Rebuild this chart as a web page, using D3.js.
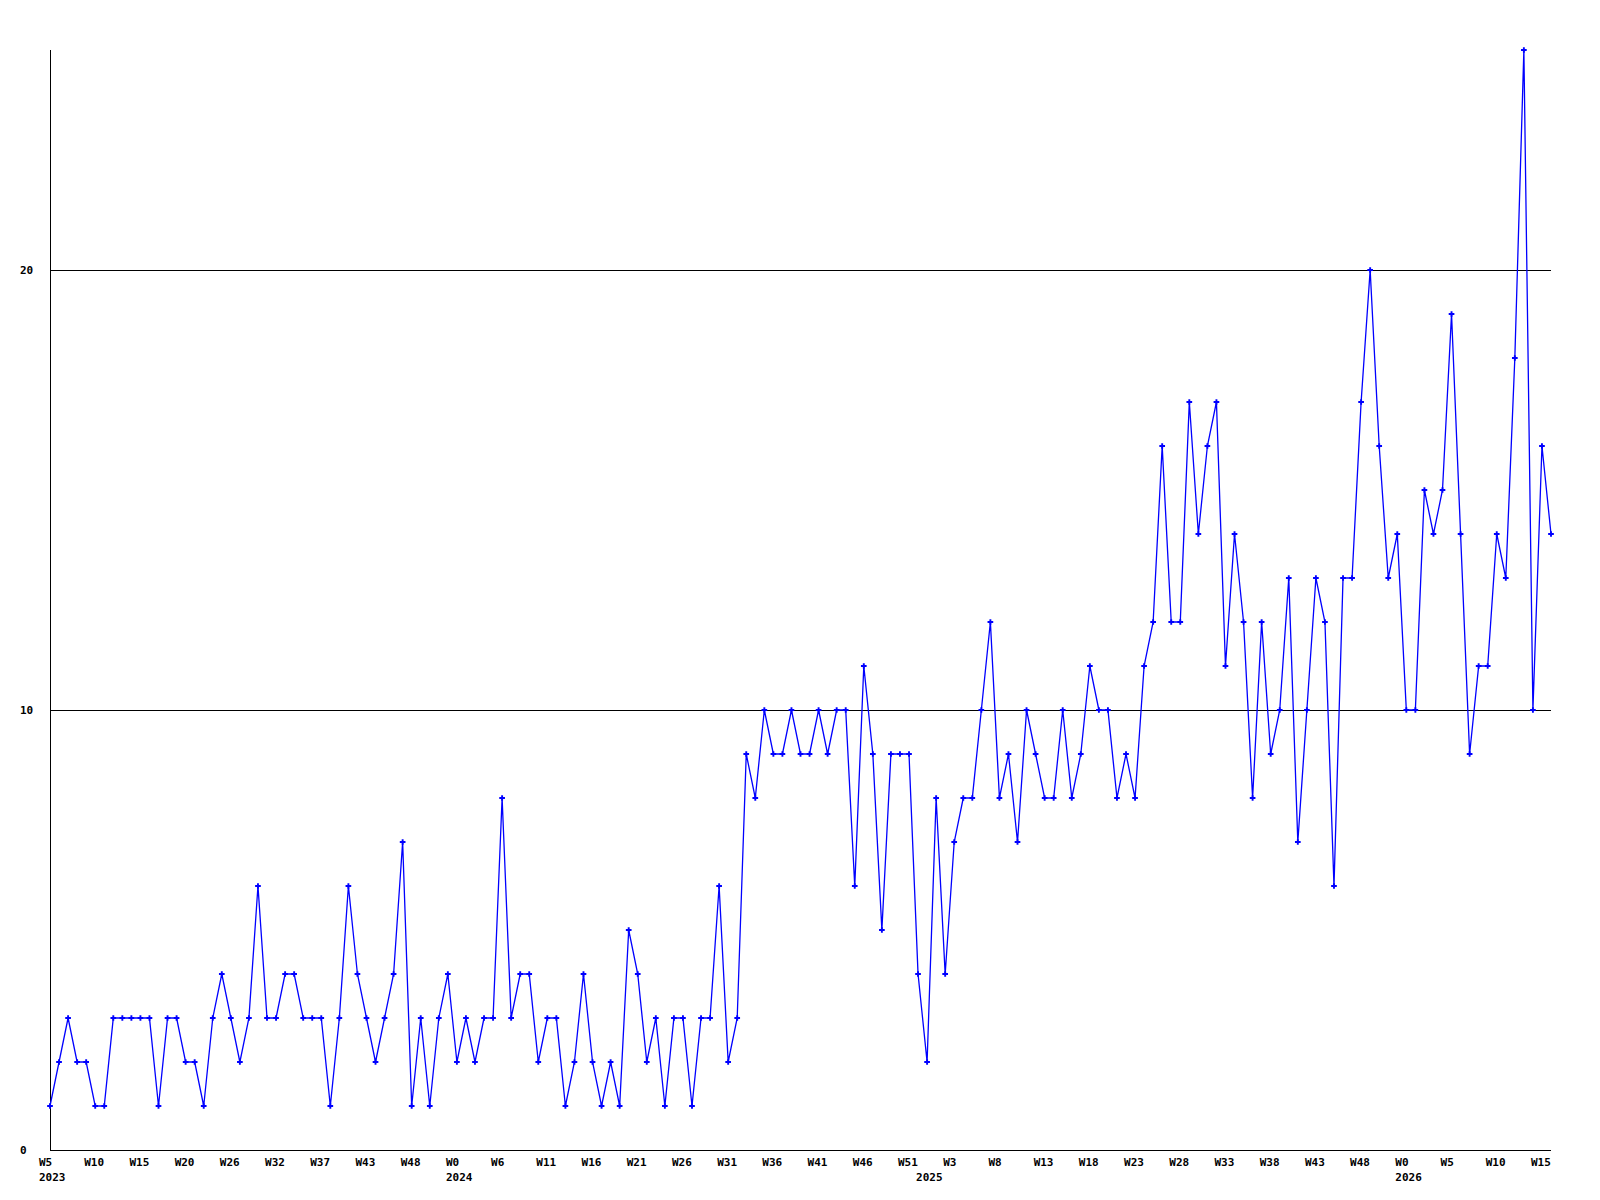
<!DOCTYPE html>
<html>
<head>
<meta charset="utf-8">
<script src="https://cdn.jsdelivr.net/npm/d3@7"></script>
<style>
  html, body { margin: 0; padding: 0; background: #fff; }
  svg text { font-family: "DejaVu Sans Mono", "Liberation Mono", monospace; font-weight: bold; font-size: 11px; fill: #000; }
</style>
</head>
<body>
<svg id="chart" width="1600" height="1200"></svg>
<script>
// Weekly counts, starting at 2023 W5 (one point per recorded week)
const values = [
  1,2,3,2,2,1,1,3,3,3,
  3,3,1,3,3,2,2,1,3,4,
  3,2,3,6,3,3,4,4,3,3,
  3,1,3,6,4,3,2,3,4,7,
  1,3,1,3,4,2,3,2,3,3,
  8,3,4,4,2,3,3,1,2,4,
  2,1,2,1,5,4,2,3,1,3,
  3,1,3,3,6,2,3,9,8,10,
  9,9,10,9,9,10,9,10,10,6,
  11,9,5,9,9,9,4,2,8,4,
  7,8,8,10,12,8,9,7,10,9,
  8,8,10,8,9,11,10,10,8,9,
  8,11,12,16,12,12,17,14,16,17,
  11,14,12,8,12,9,10,13,7,10,
  13,12,6,13,13,17,20,16,13,14,
  10,10,15,14,15,19,14,9,11,11,
  14,13,18,25,10,16,14
];
// Week label shown at every 5th point
const weekLabels = ["W5","W10","W15","W20","W26","W32","W37","W43","W48",
  "W0","W6","W11","W16","W21","W26","W31","W36","W41","W46","W51",
  "W3","W8","W13","W18","W23","W28","W33","W38","W43","W48",
  "W0","W5","W10","W15"];
const labelEvery = 5;
// Year names and the index of the first point of each year
const yearNames = ["2023","2024","2025","2026"];
const yearStarts = [0, 45, 97, 150];
const yTicks = [0, 10, 20];
const yMax = 25;

const svg = d3.select("#chart");
const mLeft = 50, mRight = 1551, mTop = 50, mBottom = 1150;

const x = d3.scaleLinear().domain([0, values.length - 1]).range([mLeft, mRight]);
const y = d3.scaleLinear().domain([0, yMax]).range([mBottom, mTop]);

// gridlines (non-zero ticks)
svg.append("g").selectAll("line").data(yTicks.filter(d => d > 0)).join("line")
  .attr("x1", mLeft).attr("x2", mRight)
  .attr("y1", d => Math.round(y(d)) + 0.5).attr("y2", d => Math.round(y(d)) + 0.5)
  .attr("stroke", "#000").attr("stroke-width", 1).attr("shape-rendering", "crispEdges");

// axes lines
svg.append("line").attr("x1", mLeft + 0.5).attr("x2", mLeft + 0.5).attr("y1", mTop).attr("y2", mBottom + 0.5)
  .attr("stroke", "#000").attr("shape-rendering", "crispEdges");
svg.append("line").attr("x1", mLeft).attr("x2", mRight).attr("y1", mBottom + 0.5).attr("y2", mBottom + 0.5)
  .attr("stroke", "#000").attr("shape-rendering", "crispEdges");

// y labels
svg.append("g").selectAll("text").data(yTicks).join("text")
  .attr("x", 20).attr("y", d => y(d)).attr("dy", "0.35em")
  .attr("text-anchor", "start").text(d => d);

// x week labels
svg.append("g").selectAll("text").data(weekLabels).join("text")
  .attr("x", (d, i) => x(i * labelEvery) - 11)
  .attr("y", 1165.5)
  .attr("text-anchor", "start").text(d => d);

// year labels
svg.append("g").selectAll("text").data(yearNames).join("text")
  .attr("x", (d, i) => x(yearStarts[i]) - 11)
  .attr("y", 1180.5)
  .attr("text-anchor", "start").text(d => d);

// line
const line = d3.line().x((d, i) => x(i)).y(d => y(d));
svg.append("path").datum(values)
  .attr("d", line).attr("fill", "none")
  .attr("stroke", "#0000ff").attr("stroke-width", 1.3);

// markers
const sym = d3.symbol().type(d3.symbolCross).size(18);
svg.append("g").selectAll("path").data(values).join("path")
  .attr("transform", (d, i) => `translate(${x(i)},${y(d)})`)
  .attr("d", sym).attr("fill", "#0000ff");
</script>
</body>
</html>
